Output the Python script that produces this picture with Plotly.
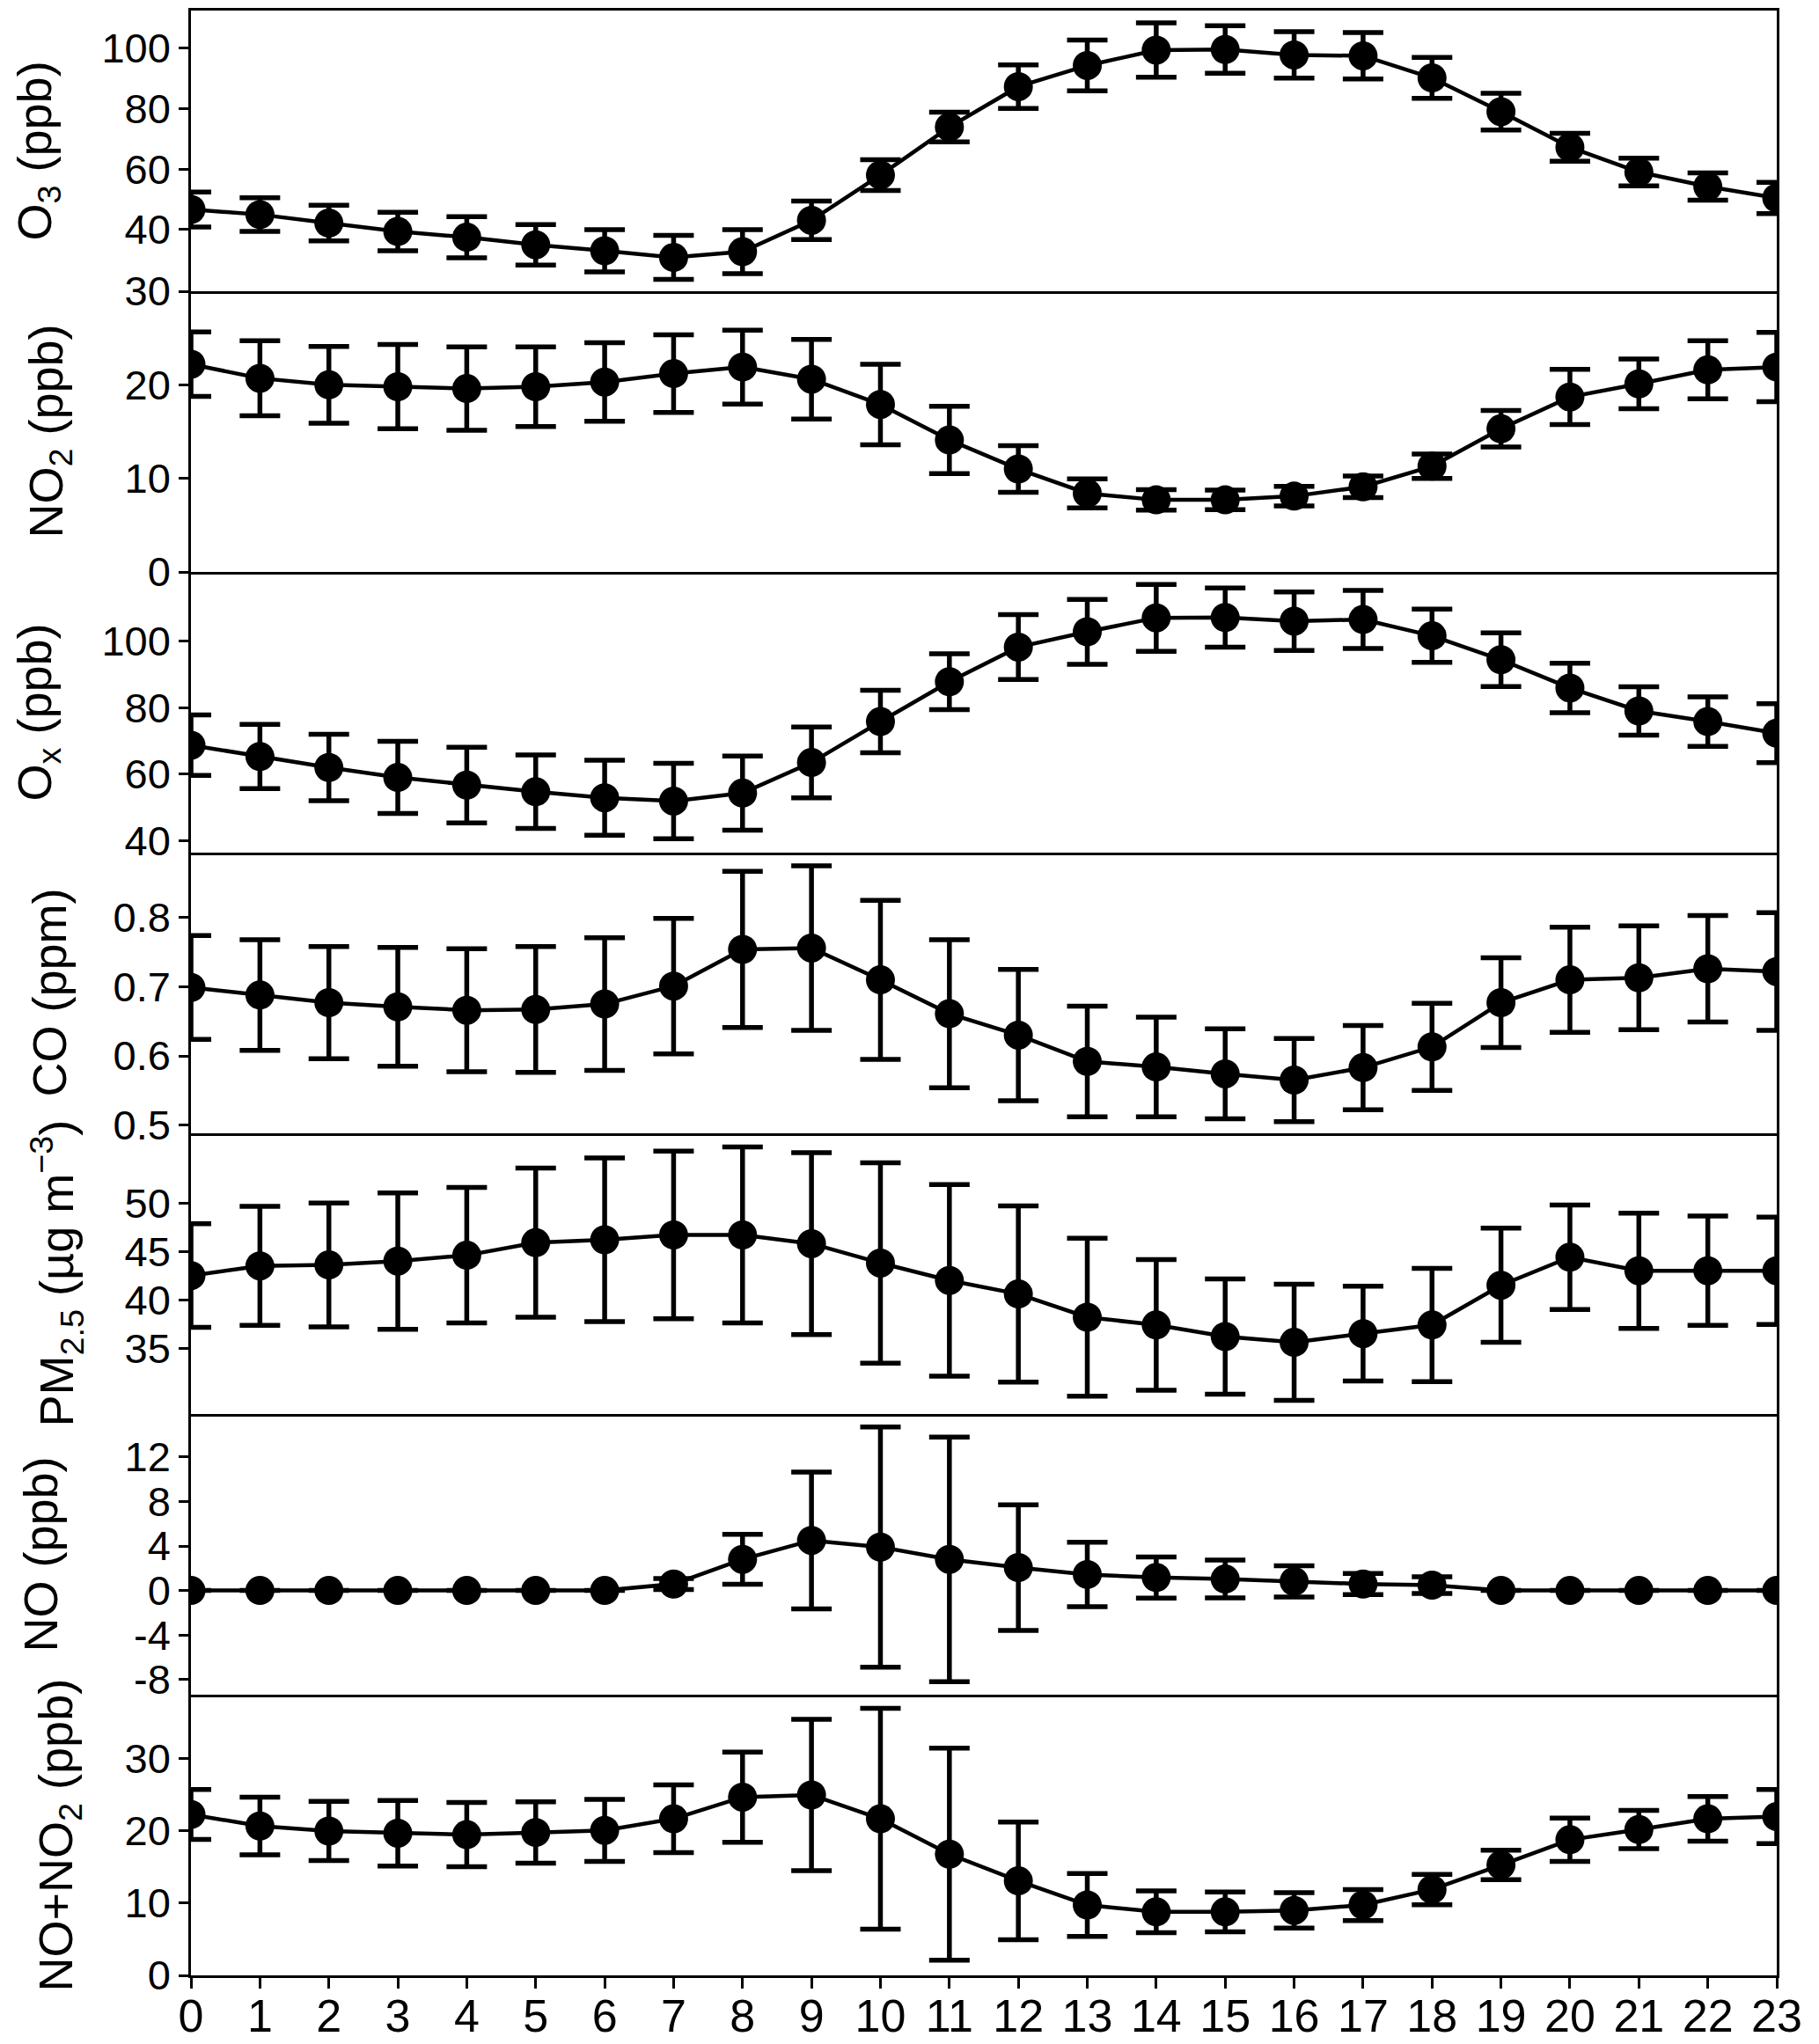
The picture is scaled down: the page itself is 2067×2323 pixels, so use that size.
import plotly.graph_objects as go
from plotly.subplots import make_subplots

hours = list(range(24))

o3_mean = [46.6, 44.9, 42.1, 39.3, 37.4, 34.9, 32.9, 30.7, 32.6, 43.0, 58.0, 73.9,
           87.3, 94.3, 99.4, 99.6, 97.8, 97.5, 90.2, 79.0, 67.2, 59.0, 54.2, 50.4]
o3_sd = [5.8, 5.6, 5.9, 6.4, 6.8, 6.7, 7.0, 7.3, 7.3, 6.4, 5.1, 4.9,
         7.2, 8.4, 9.0, 7.9, 7.7, 7.7, 6.8, 6.1, 4.6, 4.6, 4.5, 5.2]

no2_mean = [22.2, 20.7, 20.0, 19.8, 19.6, 19.8, 20.3, 21.2, 21.9, 20.6, 17.9, 14.1,
            11.0, 8.4, 7.7, 7.7, 8.1, 9.1, 11.3, 15.3, 18.7, 20.1, 21.6, 21.9]
no2_sd = [3.45, 4.0, 4.1, 4.5, 4.45, 4.25, 4.2, 4.15, 3.95, 4.25, 4.3, 3.6,
          2.5, 1.55, 1.1, 1.05, 1.05, 1.15, 1.3, 1.95, 2.95, 2.65, 3.1, 3.7]

ox_mean = [68.7, 65.3, 62.0, 59.0, 56.7, 54.7, 52.9, 51.9, 54.3, 63.5, 75.8, 87.8,
           98.2, 102.8, 107.0, 107.1, 106.0, 106.5, 101.6, 94.4, 85.9, 79.0, 75.8, 72.3]
ox_sd = [9.1, 9.65, 10.0, 10.85, 11.35, 11.05, 11.3, 11.35, 11.15, 10.65, 9.4, 8.4,
         9.75, 9.75, 10.05, 8.9, 8.8, 8.75, 8.0, 8.05, 7.45, 7.25, 7.45, 8.85]

co_mean = [0.699, 0.688, 0.677, 0.671, 0.666, 0.667, 0.675, 0.701, 0.754, 0.756, 0.710, 0.661,
           0.630, 0.592, 0.584, 0.574, 0.565, 0.583, 0.613, 0.677, 0.710, 0.713, 0.726, 0.722]
co_sd = [0.075, 0.080, 0.081, 0.086, 0.089, 0.091, 0.096, 0.098, 0.113, 0.119, 0.115, 0.107,
         0.095, 0.080, 0.072, 0.065, 0.060, 0.061, 0.063, 0.065, 0.076, 0.075, 0.077, 0.085]

pm_mean = [42.5, 43.5, 43.6, 44.0, 44.6, 45.9, 46.2, 46.7, 46.7, 45.8, 43.8, 42.0,
           40.6, 38.2, 37.4, 36.2, 35.6, 36.5, 37.4, 41.5, 44.4, 43.0, 43.0, 43.0]
pm_sd = [5.35, 6.15, 6.4, 7.05, 7.0, 7.7, 8.45, 8.65, 9.1, 9.4, 10.35, 9.9,
         9.1, 8.15, 6.75, 5.95, 6.0, 4.9, 5.85, 5.9, 5.4, 5.95, 5.65, 5.55]

no_mean = [0, 0, 0, 0, 0, 0, 0, 0.58, 2.8, 4.5, 3.9, 2.8,
           2.06, 1.44, 1.17, 1.03, 0.82, 0.58, 0.48, 0, 0, 0, 0, 0]
no_sd = [None, None, None, None, None, None, None, 0.5, 2.25, 6.15, 10.8, 11.0,
         5.65, 2.9, 1.85, 1.7, 1.4, 0.95, 0.75, None, None, None, None, None]

nox_mean = [22.3, 20.7, 20.0, 19.7, 19.5, 19.8, 20.1, 21.7, 24.7, 25.0, 21.7, 16.8,
            13.1, 9.75, 8.8, 8.8, 9.0, 9.75, 11.9, 15.3, 18.8, 20.2, 21.7, 22.0]
nox_sd = [3.45, 4.0, 4.1, 4.55, 4.45, 4.25, 4.3, 4.7, 6.25, 10.5, 15.3, 14.7,
          8.15, 4.35, 2.9, 2.75, 2.45, 2.15, 2.1, 2.05, 3.0, 2.65, 3.1, 3.75]

titles = ["O<sub>3</sub> (ppb)", "NO<sub>2</sub> (ppb)", "O<sub>x</sub> (ppb)", "CO (ppm)",
          "PM<sub>2.5</sub> (µg m<sup>−3</sup>)", "NO (ppb)", "NO+NO<sub>2</sub> (ppb)"]
means = [o3_mean, no2_mean, ox_mean, co_mean, pm_mean, no_mean, nox_mean]
sds = [o3_sd, no2_sd, ox_sd, co_sd, pm_sd, no_sd, nox_sd]
yranges = [[19.5, 112.5], [0, 30], [36.4, 120.8], [0.488, 0.894],
           [28.2, 57.2], [-9.37, 15.87], [0, 38.9]]
ytickvals = [[40, 60, 80, 100], [0, 10, 20, 30], [40, 60, 80, 100], [0.5, 0.6, 0.7, 0.8],
             [35, 40, 45, 50], [-8, -4, 0, 4, 8, 12], [0, 10, 20, 30]]
yticktext = [["40", "60", "80", "100"], ["0", "10", "20", "30"], ["40", "60", "80", "100"],
             ["0.5", "0.6", "0.7", "0.8"], ["35", "40", "45", "50"],
             ["-8", "-4", "0", "4", "8", "12"], ["0", "10", "20", "30"]]
title_px = [42, 55, 42, 55, 64, 45, 66]

W, H = 2067, 2323
ML, MR, MT, MB = 217, 48, 12, 78
PW = W - ML - MR

fig = make_subplots(rows=7, cols=1, shared_xaxes=True, vertical_spacing=0)

ann = []
for i in range(7):
    r = i + 1
    fig.add_trace(go.Scatter(
        x=hours, y=means[i], mode="lines+markers",
        line=dict(color="black", width=4.5),
        marker=dict(color="black", size=33),
        error_y=dict(type="data", array=sds[i], visible=True, color="black",
                     thickness=5.5, width=23),
        showlegend=False, cliponaxis=True), row=r, col=1)
    fig.update_yaxes(range=yranges[i], tickvals=ytickvals[i], ticktext=yticktext[i],
                     showgrid=False, zeroline=False, showline=True, mirror=True,
                     linecolor="black", linewidth=2.5, ticks="outside", ticklen=11,
                     tickwidth=2.5, tickcolor="black", automargin=False,
                     tickfont=dict(family="Liberation Sans, Arial", size=47, color="black"),
                     row=r, col=1)
    fig.update_xaxes(range=[0, 23], tickvals=hours, showgrid=False, zeroline=False,
                     showline=True, mirror=(r == 1), linecolor="black", linewidth=2.5,
                     ticks="outside" if r == 7 else "", ticklen=12, tickwidth=2.5,
                     tickcolor="black", showticklabels=(r == 7), automargin=False,
                     tickfont=dict(family="Liberation Sans, Arial", size=52, color="black"),
                     row=r, col=1)
    yref = "y domain" if r == 1 else "y%d domain" % r
    ann.append(dict(text=titles[i], xref="paper", yref=yref,
                    x=(title_px[i] - ML) / PW, y=0.5, xanchor="center", yanchor="middle",
                    textangle=-90, showarrow=False,
                    font=dict(family="Liberation Sans, Arial", size=54, color="black")))

try:
    fig.update_xaxes(ticklabelstandoff=-13, row=7, col=1)
except Exception:
    pass

fig.update_layout(template="none", width=W, height=H,
                  margin=dict(l=ML, r=MR, t=MT, b=MB, autoexpand=False),
                  paper_bgcolor="white", plot_bgcolor="white", annotations=ann)

fig.write_html("out.html", config={"displayModeBar": False},
               post_script="document.body.style.margin='0';")
